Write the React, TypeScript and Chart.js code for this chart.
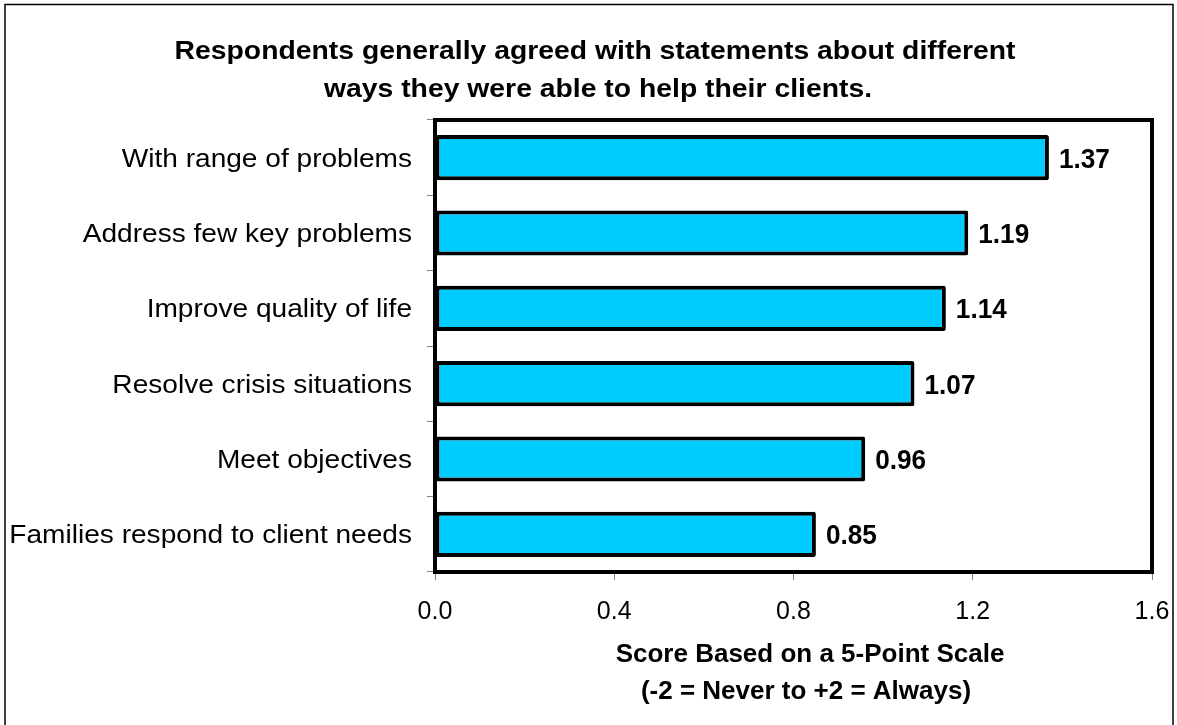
import React, { useEffect, useRef } from "react";
import { Chart, registerables } from "chart.js";

Chart.register(...registerables);

const categories = [
  "With range of problems",
  "Address few key problems",
  "Improve quality of life",
  "Resolve crisis situations",
  "Meet objectives",
  "Families respond to client needs",
];
const scores = [1.37, 1.19, 1.14, 1.07, 0.96, 0.85];
const xTicks = [0.0, 0.4, 0.8, 1.2, 1.6];
const titleLines = [
  "Respondents generally agreed with statements about different",
  "ways they were able to help their clients.",
];
const axisTitleLines = ["Score Based on a 5-Point Scale", "(-2 = Never to +2 = Always)"];

const FONT = "'Liberation Sans', Arial, sans-serif";

function drawText(
  ctx: CanvasRenderingContext2D,
  text: string,
  x: number,
  y: number,
  align: CanvasTextAlign,
  font: string,
  stretch: number
) {
  ctx.save();
  ctx.translate(x, y);
  ctx.scale(stretch, 1);
  ctx.font = font;
  ctx.fillStyle = "#000";
  ctx.textAlign = align;
  ctx.textBaseline = "alphabetic";
  ctx.fillText(text, 0, 0);
  ctx.restore();
}

const decorPlugin = {
  id: "decor",
  afterDraw(chart: any) {
    const ctx: CanvasRenderingContext2D = chart.ctx;
    const area = chart.chartArea;
    const xs = chart.scales.x;
    const ys = chart.scales.y;

    // outer frame
    ctx.save();
    ctx.strokeStyle = "#000";
    ctx.lineWidth = 1.5;
    ctx.strokeRect(5, 4.5, 1168, 760);
    ctx.restore();

    // plot frame
    ctx.save();
    ctx.strokeStyle = "#000";
    ctx.lineWidth = 4;
    ctx.strokeRect(area.left, area.top, area.right - area.left, area.bottom - area.top);
    ctx.restore();

    // title
    drawText(ctx, titleLines[0], 595, 59, "center", `bold 26px ${FONT}`, 1.09);
    drawText(ctx, titleLines[1], 598, 97, "center", `bold 26px ${FONT}`, 1.09);

    // y labels
    categories.forEach((c, i) => {
      const y = ys.getPixelForValue(i);
      drawText(ctx, c, 412, y + 9, "right", `26px ${FONT}`, 1.08);
    });

    // x tick labels
    xTicks.forEach((v) => {
      const x = xs.getPixelForValue(v);
      drawText(ctx, v.toFixed(1), x, 619, "center", `25px ${FONT}`, 1.0);
    });

    // value labels
    const meta = chart.getDatasetMeta(0);
    meta.data.forEach((bar: any, i: number) => {
      drawText(ctx, scores[i].toFixed(2), bar.x + 10, bar.y + 10, "left", `bold 27px ${FONT}`, 0.97);
    });

    // axis title
    drawText(ctx, axisTitleLines[0], 810, 662, "center", `bold 26px ${FONT}`, 1.0);
    drawText(ctx, axisTitleLines[1], 806, 699, "center", `bold 26px ${FONT}`, 1.0);
  },
};

export default function App() {
  const ref = useRef<HTMLCanvasElement | null>(null);
  useEffect(() => {
    document.body.style.margin = "0";
    const canvas = ref.current!;
    const chart = new Chart(canvas, {
      type: "bar",
      data: {
        labels: categories,
        datasets: [
          {
            data: scores,
            backgroundColor: "#00CCFF",
            borderColor: "#000000",
            borderWidth: 4,
            borderSkipped: false,
            borderRadius: 2,
            categoryPercentage: 0.6,
            barPercentage: 1.0,
          },
        ],
      },
      options: {
        indexAxis: "y",
        responsive: false,
        animation: false,
        devicePixelRatio: 1,
        layout: { padding: { top: 120, right: 25, bottom: 0, left: 0 } },
        plugins: {
          legend: { display: false },
          title: { display: false },
          tooltip: { enabled: false },
        },
        scales: {
          x: {
            type: "linear",
            min: 0,
            max: 1.6,
            afterBuildTicks: (scale: any) => {
              scale.ticks = xTicks.map((v) => ({ value: v }));
            },
            afterFit: (scale: any) => {
              scale.height = 153;
            },
            ticks: { color: "rgba(0,0,0,0)", font: { size: 24 } },
            grid: {
              drawOnChartArea: false,
              drawTicks: true,
              tickLength: 8,
              color: "#808080",
              lineWidth: 1,
            },
            border: { display: false },
          },
          y: {
            type: "category",
            afterFit: (scale: any) => {
              scale.width = 435;
            },
            ticks: { color: "rgba(0,0,0,0)", font: { size: 24 } },
            grid: {
              offset: true,
              drawOnChartArea: false,
              drawTicks: true,
              tickLength: 8,
              color: "#808080",
              lineWidth: 1,
            },
            border: { display: false },
          },
        },
      },
      plugins: [decorPlugin],
    });
    return () => chart.destroy();
  }, []);
  return (
    <div style={{ position: "fixed", left: 0, top: 0, width: 1177, height: 725, background: "#fff" }}>
      <canvas ref={ref} width={1177} height={725} style={{ width: 1177, height: 725, display: "block" }} />
    </div>
  );
}
